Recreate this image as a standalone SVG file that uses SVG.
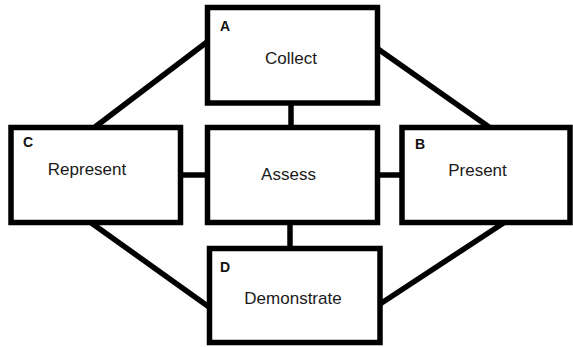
<svg xmlns="http://www.w3.org/2000/svg" width="573" height="347" viewBox="0 0 573 347">
<style>
.box{fill:#fff;stroke:#000;stroke-width:5.5}
.conn line{stroke:#000;stroke-width:5.5}
.lbl{font-family:"Liberation Sans",Arial,sans-serif;font-size:14px;font-weight:bold;fill:#111}
.txt{font-family:"Liberation Sans",Arial,sans-serif;font-size:17px;fill:#1a1a1a;text-anchor:middle}
</style>
<rect width="573" height="347" fill="#fff"/>
<g id="connectors" class="conn">
<line x1="207" y1="42" x2="95" y2="127"/>
<line x1="378" y1="49" x2="489" y2="127"/>
<line x1="90" y1="222" x2="209" y2="307"/>
<line x1="505" y1="222" x2="380" y2="304"/>
<line x1="291" y1="103" x2="291" y2="127.5"/>
<line x1="290" y1="222.5" x2="290" y2="248.5"/>
<line x1="180.5" y1="175" x2="207.5" y2="175"/>
<line x1="377.5" y1="175" x2="402" y2="175"/>
</g>
<g id="nodeA">
<rect class="box" x="207.5" y="7.5" width="170" height="95.5"/>
<text class="lbl" x="220" y="30.5">A</text>
<text class="txt" x="291" y="64">Collect</text>
</g>
<g id="nodeC">
<rect class="box" x="11" y="127.5" width="169.5" height="95"/>
<text class="lbl" x="23" y="147">C</text>
<text class="txt" x="87" y="175">Represent</text>
</g>
<g id="nodeAssess">
<rect class="box" x="207.5" y="127.5" width="170" height="95"/>
<text class="txt" x="288.5" y="180">Assess</text>
</g>
<g id="nodeB">
<rect class="box" x="402" y="127.5" width="168" height="95"/>
<text class="lbl" x="415" y="148.5">B</text>
<text class="txt" x="477.5" y="176">Present</text>
</g>
<g id="nodeD">
<rect class="box" x="209.5" y="248.5" width="170.5" height="94"/>
<text class="lbl" x="220" y="272">D</text>
<text class="txt" x="293" y="304">Demonstrate</text>
</g>
</svg>
